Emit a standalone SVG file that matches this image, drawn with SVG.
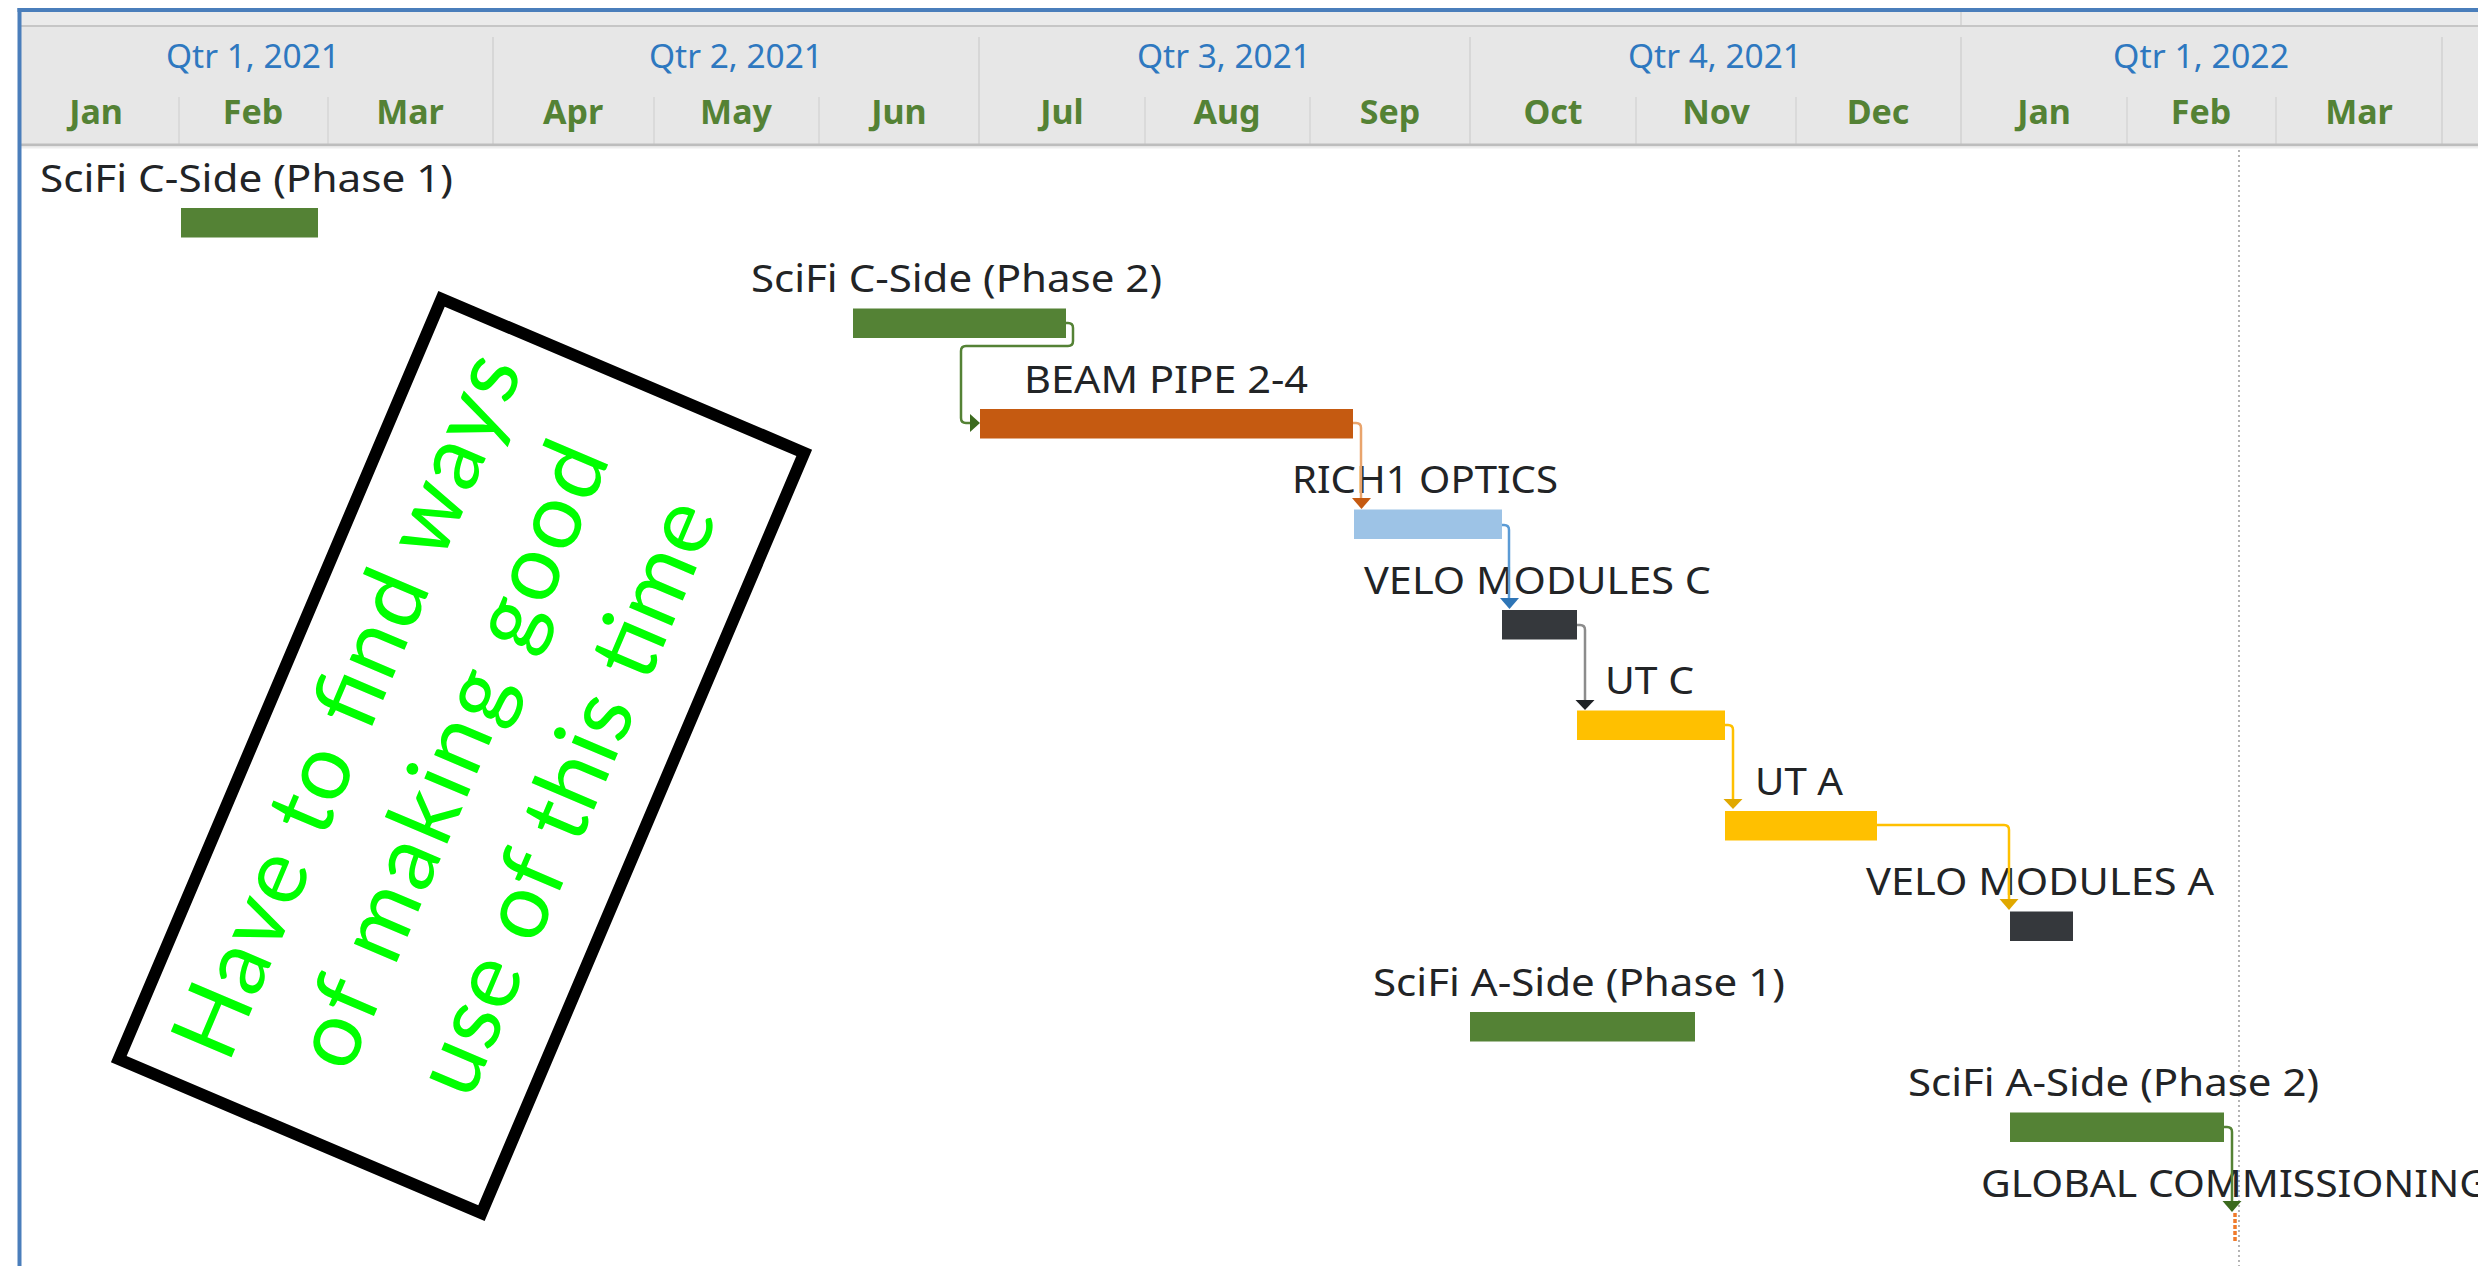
<svg xmlns="http://www.w3.org/2000/svg" width="2478" height="1266" viewBox="0 0 2478 1266">
  <style>
    .qtr { font-family: "Noto Sans", "Open Sans", sans-serif; font-size: 32px; fill: #2E78C0; text-anchor: middle; }
    .mon { font-family: "Noto Sans", "Open Sans", sans-serif; font-size: 34px; font-weight: bold; fill: #548235; text-anchor: middle; }
    .lbl { font-family: "Noto Sans", "Open Sans", sans-serif; font-size: 38px; fill: #222426; }
    .qdiv { stroke: #D2D2D2; stroke-width: 1.5; }
    .mdiv { stroke: #D6D6D6; stroke-width: 1.5; }
    .green { fill: #548235; }
    .orange { fill: #C55A11; }
    .lblue { fill: #9DC3E6; }
    .dark { fill: #35383C; }
    .amber { fill: #FFC000; }
    .link { fill: none; stroke-width: 2.5; }
    .note { font-family: "Lato", "Open Sans", sans-serif; font-size: 92px; fill: #00FF00; text-anchor: middle; }
  </style>

  <rect x="0" y="0" width="2478" height="1266" fill="#FFFFFF"/>

  <!-- timescale header -->
  <g id="timescale">
    <rect x="20" y="12" width="2458" height="133" fill="#E7E7E7"/>
    <rect x="20" y="12" width="2458" height="14" fill="#EBEBEB"/>
    <line x1="20" y1="26" x2="2478" y2="26" stroke="#C6C6C6" stroke-width="2"/>
    <line x1="1961" y1="12" x2="1961" y2="25" class="qdiv"/>
    <!-- quarter dividers -->
    <line x1="493" y1="37" x2="493" y2="144" class="qdiv"/>
    <line x1="979" y1="37" x2="979" y2="144" class="qdiv"/>
    <line x1="1470" y1="37" x2="1470" y2="144" class="qdiv"/>
    <line x1="1961" y1="37" x2="1961" y2="144" class="qdiv"/>
    <line x1="2442" y1="37" x2="2442" y2="144" class="qdiv"/>
    <!-- month dividers -->
    <line x1="179" y1="97" x2="179" y2="144" class="mdiv"/>
    <line x1="328" y1="97" x2="328" y2="144" class="mdiv"/>
    <line x1="654" y1="97" x2="654" y2="144" class="mdiv"/>
    <line x1="819" y1="97" x2="819" y2="144" class="mdiv"/>
    <line x1="1145" y1="97" x2="1145" y2="144" class="mdiv"/>
    <line x1="1310" y1="97" x2="1310" y2="144" class="mdiv"/>
    <line x1="1636" y1="97" x2="1636" y2="144" class="mdiv"/>
    <line x1="1796" y1="97" x2="1796" y2="144" class="mdiv"/>
    <line x1="2127" y1="97" x2="2127" y2="144" class="mdiv"/>
    <line x1="2276" y1="97" x2="2276" y2="144" class="mdiv"/>
    <line x1="20" y1="145" x2="2478" y2="145" stroke="#BDBDBD" stroke-width="3"/>
    <line x1="20" y1="147.5" x2="2478" y2="147.5" stroke="#EEEEEE" stroke-width="2"/>

    <text class="qtr" x="253" y="68" textLength="174" lengthAdjust="spacingAndGlyphs">Qtr 1, 2021</text>
    <text class="qtr" x="736" y="68" textLength="174" lengthAdjust="spacingAndGlyphs">Qtr 2, 2021</text>
    <text class="qtr" x="1224" y="68" textLength="174" lengthAdjust="spacingAndGlyphs">Qtr 3, 2021</text>
    <text class="qtr" x="1715" y="68" textLength="174" lengthAdjust="spacingAndGlyphs">Qtr 4, 2021</text>
    <text class="qtr" x="2201" y="68" textLength="176" lengthAdjust="spacingAndGlyphs">Qtr 1, 2022</text>

    <text class="mon" x="96" y="124">Jan</text>
    <text class="mon" x="253" y="124">Feb</text>
    <text class="mon" x="410" y="124">Mar</text>
    <text class="mon" x="573" y="124">Apr</text>
    <text class="mon" x="736" y="124">May</text>
    <text class="mon" x="899" y="124">Jun</text>
    <text class="mon" x="1062" y="124">Jul</text>
    <text class="mon" x="1227" y="124">Aug</text>
    <text class="mon" x="1390" y="124">Sep</text>
    <text class="mon" x="1553" y="124">Oct</text>
    <text class="mon" x="1716" y="124">Nov</text>
    <text class="mon" x="1878" y="124">Dec</text>
    <text class="mon" x="2044" y="124">Jan</text>
    <text class="mon" x="2201" y="124">Feb</text>
    <text class="mon" x="2359" y="124">Mar</text>
  </g>

  <!-- status date line -->
  <line x1="2239" y1="150" x2="2239" y2="1266" stroke="#B4B4B4" stroke-width="2" stroke-dasharray="2 3"/>

  <!-- outer frame -->
  <line x1="19.5" y1="8" x2="19.5" y2="1266" stroke="#4A7EBB" stroke-width="4"/>
  <line x1="17.5" y1="10" x2="2478" y2="10" stroke="#4A7EBB" stroke-width="4"/>

  <!-- tasks -->
  <g id="task-scifi-c1">
    <text class="lbl" x="40" y="191.5" textLength="413" lengthAdjust="spacingAndGlyphs">SciFi C-Side (Phase 1)</text>
    <rect class="green" x="181" y="208" width="137" height="29.5"/>
  </g>
  <g id="task-scifi-c2">
    <text class="lbl" x="751" y="292" textLength="411" lengthAdjust="spacingAndGlyphs">SciFi C-Side (Phase 2)</text>
    <rect class="green" x="853" y="308.5" width="213" height="29.5"/>
  </g>
  <g id="task-beam-pipe">
    <text class="lbl" x="1024" y="392.5" textLength="284" lengthAdjust="spacingAndGlyphs">BEAM PIPE 2-4</text>
    <rect class="orange" x="980" y="409" width="373" height="29.5"/>
  </g>
  <g id="task-rich1">
    <text class="lbl" x="1292" y="493" textLength="266" lengthAdjust="spacingAndGlyphs">RICH1 OPTICS</text>
    <rect class="lblue" x="1354" y="509.5" width="148" height="29.5"/>
  </g>
  <g id="task-velo-c">
    <text class="lbl" x="1364" y="593.5" textLength="347" lengthAdjust="spacingAndGlyphs">VELO MODULES C</text>
    <rect class="dark" x="1502" y="610" width="75" height="29.5"/>
  </g>
  <g id="task-ut-c">
    <text class="lbl" x="1605" y="694" textLength="89" lengthAdjust="spacingAndGlyphs">UT C</text>
    <rect class="amber" x="1577" y="710.5" width="148" height="29.5"/>
  </g>
  <g id="task-ut-a">
    <text class="lbl" x="1755" y="794.5" textLength="88" lengthAdjust="spacingAndGlyphs">UT A</text>
    <rect class="amber" x="1725" y="811" width="152" height="29.5"/>
  </g>
  <g id="task-velo-a">
    <text class="lbl" x="1866" y="895" textLength="348" lengthAdjust="spacingAndGlyphs">VELO MODULES A</text>
    <rect class="dark" x="2010" y="911.5" width="63" height="29.5"/>
  </g>
  <g id="task-scifi-a1">
    <text class="lbl" x="1373" y="995.5" textLength="412" lengthAdjust="spacingAndGlyphs">SciFi A-Side (Phase 1)</text>
    <rect class="green" x="1470" y="1012" width="225" height="29.5"/>
  </g>
  <g id="task-scifi-a2">
    <text class="lbl" x="1908" y="1096" textLength="411" lengthAdjust="spacingAndGlyphs">SciFi A-Side (Phase 2)</text>
    <rect class="green" x="2010" y="1112.5" width="214" height="29.5"/>
  </g>
  <g id="task-global-commissioning">
    <text class="lbl" x="1981" y="1196.5" textLength="508" lengthAdjust="spacingAndGlyphs">GLOBAL COMMISSIONING</text>
    <line x1="2235" y1="1213" x2="2235" y2="1243" stroke="#F07A2A" stroke-width="3.5" stroke-dasharray="4 2"/>
  </g>

  <!-- dependency links -->
  <g id="links">
    <path class="link" stroke="#548235" d="M1066,323 H1068 Q1073,323 1073,328 V341 Q1073,346 1068,346 H966 Q961,346 961,351 V418 Q961,423 966,423 H971"/>
    <polygon points="970,414 980,423 970,432" fill="#3B6A1E"/>

    <path class="link" stroke="#E9A46C" d="M1353,423 H1356 Q1361,423 1361,428 V499"/>
    <polygon points="1352,498 1371,498 1361.5,509" fill="#C55A11"/>

    <path class="link" stroke="#5B9BD5" d="M1502,525 H1504 Q1509,525 1509,530 V599"/>
    <polygon points="1500,598 1519,598 1509.5,609" fill="#2E75B6"/>

    <path class="link" stroke="#8C8C8C" d="M1577,625 H1580 Q1585,625 1585,630 V701"/>
    <polygon points="1575.5,700 1594.5,700 1585,710" fill="#1E2226"/>

    <path class="link" stroke="#FFC000" d="M1725,725 H1728 Q1733,725 1733,730 V800"/>
    <polygon points="1723.5,799 1742.5,799 1733,809" fill="#E0A800"/>

    <path class="link" stroke="#FFC000" d="M1877,825 H2004 Q2009,825 2009,830 V900"/>
    <polygon points="1999.5,899 2018.5,899 2009,910" fill="#E0A800"/>

    <path class="link" stroke="#548235" d="M2224,1127 H2227 Q2232,1127 2232,1132 V1202"/>
    <polygon points="2222.5,1201 2241.5,1201 2232,1212" fill="#3B6A1E"/>
  </g>

  <!-- handwritten note -->
  <g id="note" transform="translate(461.5,756) rotate(-67)">
    <rect x="-413" y="-197" width="826" height="394" fill="#FFFFFF" stroke="#000000" stroke-width="12"/>
    <text class="note" x="2" y="-94" textLength="755">Have to find ways</text>
    <text class="note" x="-3" y="21" textLength="670">of making good</text>
    <text class="note" x="3" y="143" textLength="636">use of this time</text>
  </g>
</svg>
